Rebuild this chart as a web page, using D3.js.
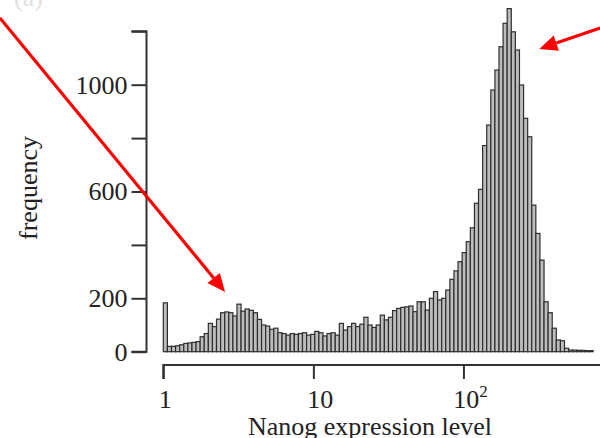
<!DOCTYPE html>
<html>
<head>
<meta charset="utf-8">
<script src="https://cdn.jsdelivr.net/npm/d3@7"></script>
<style>
  body { margin: 0; background: #fff; }
  svg { display: block; }
  text { font-family: "Liberation Serif", "Times New Roman", serif; fill: #222; }
</style>
</head>
<body>
<svg id="chart" width="600" height="438"></svg>
<script>
// Histogram of Nanog expression (log-spaced bins from binRange[0] to binRange[1])
const counts = [
  183, 20, 20, 22, 26, 31, 33, 35, 38, 56,
  68, 106, 94, 122, 146, 149, 146, 134, 178, 152,
  160, 155, 146, 121, 100, 96, 84, 88, 71, 68,
  62, 68, 65, 68, 71, 62, 65, 76, 71, 59,
  68, 71, 62, 106, 81, 94, 106, 94, 103, 129,
  100, 91, 100, 137, 119, 129, 154, 162, 166, 168,
  171, 150, 187, 187, 156, 200, 225, 194, 200, 231,
  271, 303, 337, 371, 412, 464, 556, 608, 772, 849,
  980, 1055, 1142, 1230, 1285, 1198, 1130, 999, 874, 805,
  549, 443, 343, 187, 146, 88, 44, 41, 13, 6,
  6, 5, 5, 4, 4
];
const binRange = [1, 732];

const yTicks = [0, 200, 400, 600, 800, 1000, 1200];
const yTickLabels = ["0", "200", "", "600", "", "1000", ""];
const xTicks = [1, 10, 100];
const xTickBase = ["1", "10", "10"];
const xTickExp = ["", "", "2"];

// Annotation arrows in data units: [tailX, tailY, tipX, tipY]
const arrows = [
  [0.0815, 1250, 2.58, 224],
  [815, 1212, 320, 1134]
];

const svg = d3.select("#chart");

const x = d3.scaleLog().domain([1, 813]).range([163.3, 600]);
const y = d3.scaleLinear().domain([0, 1200]).range([351.7, 31.3]);

// log-spaced bin edges
const lo = Math.log10(binRange[0]), hi = Math.log10(binRange[1]);
const step = (hi - lo) / counts.length;
const bins = counts.map((c, i) => ({
  x0: Math.pow(10, lo + i * step),
  x1: Math.pow(10, lo + (i + 1) * step),
  n: c
}));

svg.append("g")
  .selectAll("rect")
  .data(bins)
  .join("rect")
  .attr("x", d => x(d.x0))
  .attr("width", d => x(d.x1) - x(d.x0))
  .attr("y", d => y(d.n))
  .attr("height", d => y(0) - y(d.n))
  .attr("fill", "#bdbdbd")
  .attr("stroke", "#2e2e2e")
  .attr("stroke-width", 1.2);

// y axis
const yAxis = svg.append("g")
  .attr("transform", "translate(146.5,0)")
  .call(d3.axisLeft(y).tickValues(yTicks).tickSize(15).tickPadding(4)
    .tickFormat((d, i) => yTickLabels[i]));
yAxis.select(".domain").attr("stroke", "#333").attr("stroke-width", 2)
  .attr("d", `M-15,${y(1200)}H0V${y(0)}H-15`);
yAxis.selectAll(".tick line").attr("stroke", "#333").attr("stroke-width", 2);
yAxis.selectAll(".tick text")
  .style("font-family", '"Liberation Serif", serif')
  .attr("font-size", 26).attr("fill", "#222");

// x axis
const xAxis = svg.append("g")
  .attr("transform", "translate(0,365)")
  .call(d3.axisBottom(x).tickValues(xTicks).tickSize(14).tickFormat(() => ""));
xAxis.select(".domain").attr("stroke", "#333").attr("stroke-width", 2)
  .attr("d", `M${x(1)},14V0H600`);
xAxis.selectAll(".tick line").attr("stroke", "#333").attr("stroke-width", 2);

const xl = svg.append("g").selectAll("text")
  .data(xTicks)
  .join("text")
  .attr("x", d => x(d))
  .attr("dx", (d, i) => xTickBase[i].length > 1 ? 7 : 2)
  .attr("y", 408)
  .attr("font-size", 26)
  .attr("text-anchor", "middle");
xl.append("tspan").text((d, i) => xTickBase[i]);
xl.append("tspan")
  .attr("font-size", 17)
  .attr("dy", -11)
  .text((d, i) => xTickExp[i]);

// axis titles
svg.append("text")
  .attr("x", 370)
  .attr("y", 435)
  .attr("text-anchor", "middle")
  .attr("font-size", 26)
  .text("Nanog expression level");

svg.append("text")
  .attr("transform", "translate(37,188) rotate(-90)")
  .attr("text-anchor", "middle")
  .attr("font-size", 26)
  .text("frequency");

// panel letter, mostly above the frame
svg.append("text")
  .attr("x", 14)
  .attr("y", 6)
  .attr("font-size", 26)
  .style("fill", "#e2e2e2")
  .text("(a)");

// red annotation arrows
const headLen = 18, headHalf = 8;
arrows.forEach(([tx, ty, hx, hy]) => {
  const x0 = x(tx), y0 = y(ty), x1 = x(hx), y1 = y(hy);
  const ang = Math.atan2(y1 - y0, x1 - x0);
  const bx = x1 - headLen * Math.cos(ang), by = y1 - headLen * Math.sin(ang);
  svg.append("line")
    .attr("x1", x0).attr("y1", y0).attr("x2", bx).attr("y2", by)
    .attr("stroke", "#f00").attr("stroke-width", 3.2);
  const px = -Math.sin(ang) * headHalf, py = Math.cos(ang) * headHalf;
  svg.append("path")
    .attr("d", `M${x1},${y1}L${bx + px},${by + py}L${bx - px},${by - py}Z`)
    .attr("fill", "#f00");
});
</script>
</body>
</html>
